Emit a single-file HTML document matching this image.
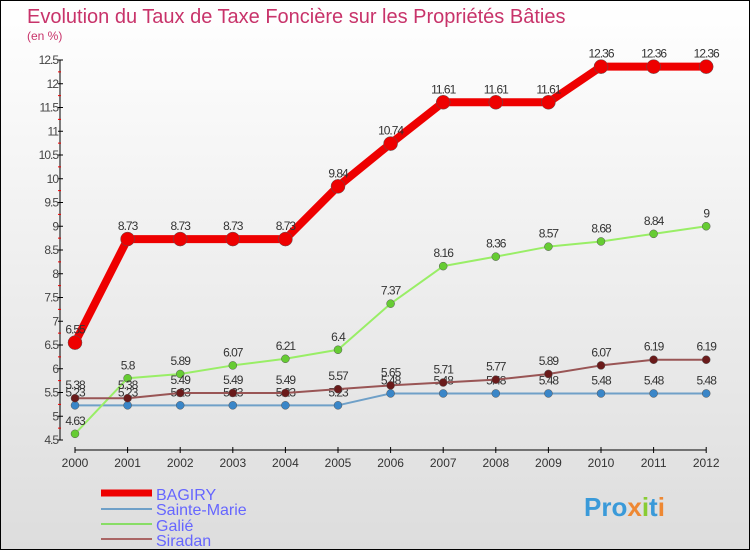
<!DOCTYPE html>
<html><head><meta charset="utf-8"><style>
html,body{margin:0;padding:0}
body{width:750px;height:550px;overflow:hidden;font-family:"Liberation Sans",sans-serif}
#wrap{position:relative;width:748px;height:548px;border:1px solid #000;background:linear-gradient(#fff,#ddd)}
</style></head><body>
<div id="wrap">
<svg id="chart" width="748" height="548" xmlns="http://www.w3.org/2000/svg">
<text x="26" y="22" font-size="20" fill="#c8336a">Evolution du Taux de Taxe Foncière sur les Propriétés Bâties</text>
<text x="26" y="39" font-size="12" fill="#c8336a">(en %)</text>
<g id="axes"></g><g id="series"></g>
<g>
<line x1="100" y1="492" x2="151" y2="492" stroke="#e00" stroke-width="7"/>
<text x="155" y="499" font-size="16" fill="#66f">BAGIRY</text>
<line x1="100" y1="508" x2="151" y2="508" stroke="#6fa0c8" stroke-width="2"/>
<text x="155" y="514" font-size="16" fill="#66f">Sainte-Marie</text>
<line x1="100" y1="523" x2="151" y2="523" stroke="#8d6" stroke-width="2"/>
<text x="155" y="530" font-size="16" fill="#66f">Galié</text>
<line x1="100" y1="538" x2="151" y2="538" stroke="#a66" stroke-width="2"/>
<text x="155" y="545" font-size="16" fill="#66f">Siradan</text>
</g>
<text x="583" y="515" font-size="26" font-weight="bold" fill="#3a9ad9">Pro<tspan fill="#e83">x</tspan><tspan fill="#8c3">i</tspan>t<tspan fill="#e83">i</tspan></text>
</svg>
</div>
<script>
const years=[2000,2001,2002,2003,2004,2005,2006,2007,2008,2009,2010,2011,2012];
const bagiry=[6.55,8.73,8.73,8.73,8.73,9.84,10.74,11.61,11.61,11.61,12.36,12.36,12.36];
const sainteMarie=[5.23,5.23,5.23,5.23,5.23,5.23,5.48,5.48,5.48,5.48,5.48,5.48,5.48];
const galie=[4.63,5.8,5.89,6.07,6.21,6.4,7.37,8.16,8.36,8.57,8.68,8.84,9];
const siradan=[5.38,5.38,5.49,5.49,5.49,5.57,5.65,5.71,5.77,5.89,6.07,6.19,6.19];
const yTicks=[4.5,5,5.5,6,6.5,7,7.5,8,8.5,9,9.5,10,10.5,11,11.5,12,12.5];
const NS="http://www.w3.org/2000/svg";
const xs=i=>74+i*52.6;
const ys=v=>59+(12.5-v)*47.5;
function mk(tag,attrs,parent){const e=document.createElementNS(NS,tag);for(const k in attrs)e.setAttribute(k,attrs[k]);parent.appendChild(e);return e;}
const ax=document.getElementById('axes');
let a=mk('line',{x1:59,y1:ys(12.5),x2:59,y2:ys(4.5),stroke:'#000'},ax);


a=mk('line',{x1:xs(0),y1:449,x2:xs(12),y2:449,stroke:'#000'},ax);


yTicks.forEach((t,i)=>{
 mk('line',{x1:57,y1:ys(t),x2:62,y2:ys(t),stroke:'#000'},ax);
 if(i<yTicks.length-1)mk('line',{x1:57,y1:ys(t+0.25),x2:60,y2:ys(t+0.25),stroke:'#e00'},ax);
 const tx=mk('text',{x:57,y:ys(t)+4,'font-size':12,'text-anchor':'end',fill:'#444','letter-spacing':'-1'},ax);
 tx.textContent=String(t);
 
 
});
years.forEach((y,i)=>{
 mk('line',{x1:xs(i),y1:446,x2:xs(i),y2:452,stroke:'#000'},ax);
 const tx=mk('text',{x:xs(i),y:466,'font-size':12,'text-anchor':'middle',fill:'#333'},ax);
 tx.textContent=String(y);
 
 
});
const sg=document.getElementById('series');
function draw(vals,name,color,w,r,dot){
 const g=mk('g',{},sg);
 
 
 const l=mk('polyline',{points:vals.map((v,i)=>xs(i)+','+ys(v)).join(' '),fill:'none',stroke:color,'stroke-width':w,'stroke-linejoin':'round'},g);
 
 
 vals.forEach((v,i)=>{
  const c=mk('circle',{cx:xs(i),cy:ys(v),r:r,fill:dot,stroke:'#555','stroke-width':0.5},g);
  
  
  const t=mk('text',{x:xs(i),y:ys(v)-9,'font-size':12,'text-anchor':'middle',fill:'#333','letter-spacing':'-1'},g);
  t.textContent=String(v);
  
  
 });
}
draw(sainteMarie,'sainte-marie','#6fa0c8',2,4,'#3a86c8');
draw(galie,'galie','#9e6',2,4,'#6c3');
draw(siradan,'siradan','#955',2,4,'#6a1a1a');
draw(bagiry,'bagiry','#e00',8,7,'#e00');
</script>
</body></html>
